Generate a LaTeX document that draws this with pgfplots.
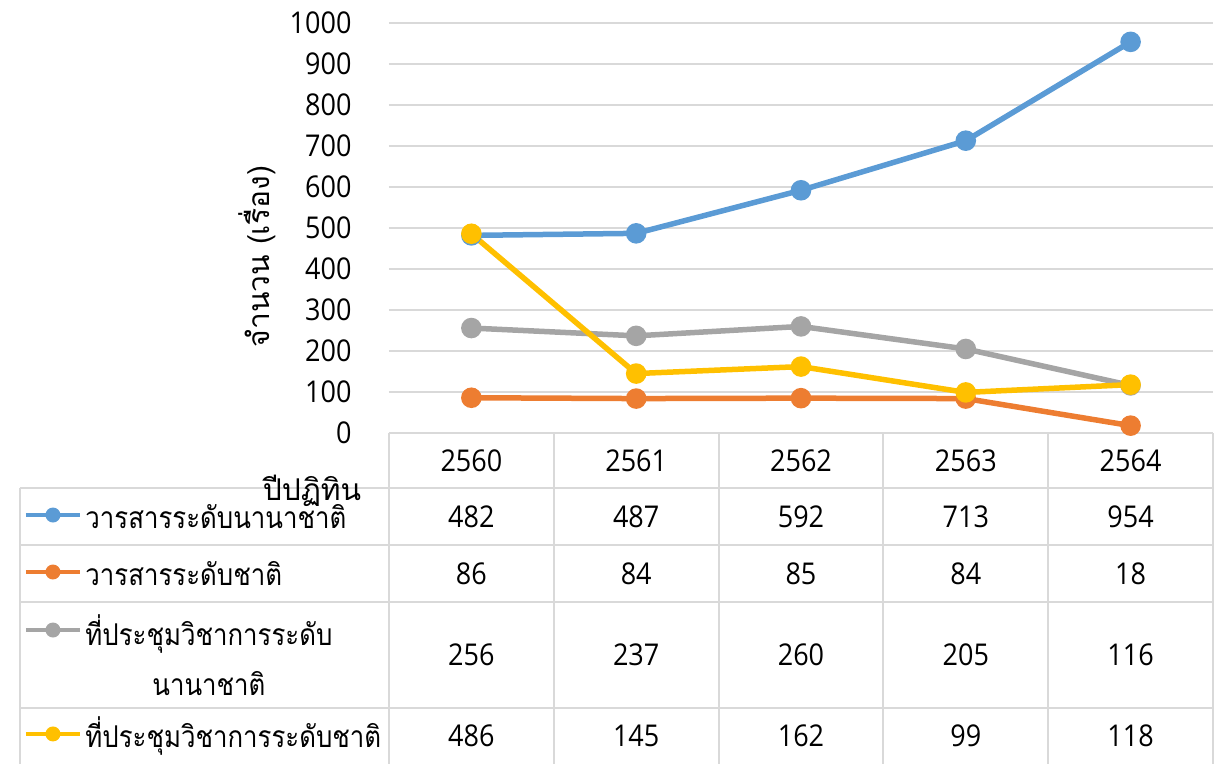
\documentclass[border=0pt]{standalone}
\usepackage{pgfplots}
\pgfplotsset{compat=1.18}
\usepackage{pgfplotstable}
\usepackage{fontspec}
\setmainfont{Open Sans}[FakeStretch=0.9]
\newfontfamily\thaifont[Script=Thai]{Loma}
\newfontfamily\thairow[Script=Thai, FakeStretch=0.86]{Loma}

\definecolor{sBlue}{HTML}{5B9BD5}
\definecolor{sOrange}{HTML}{ED7D31}
\definecolor{sGray}{HTML}{A5A5A5}
\definecolor{sYellow}{HTML}{FFC000}
\definecolor{gridc}{HTML}{D9D9D9}
\tikzset{tabline/.style={gridc, line width=0.8pt}}

% papers per year (Buddhist calendar)
\pgfplotstableread{
x year intj natj intc natc
0 2560 482 86 256 486
1 2561 487 84 237 145
2 2562 592 85 260 162
3 2563 713 84 205 99
4 2564 954 18 116 118
}\papers

\begin{document}
\fontsize{12}{20}\selectfont
\begin{tikzpicture}
\begin{axis}[
    scale only axis,
    width=329.6pt, height=164pt,
    xmin=-0.5, xmax=4.5, ymin=0, ymax=1000,
    xtick=\empty,
    ytick={0,100,...,1000},
    ymajorgrids,
    grid style={gridc, line width=0.6pt},
    axis line style={draw=none},
    major tick length=0pt,
    clip=false,
    /pgf/number format/assume math mode=true,
    /pgf/number format/1000 sep={},
    yticklabel style={xshift=-10.8pt},
    ylabel={\thaifont จำนวน (เรื่อง)},
    ylabel style={at={(rel axis cs:-0.16,0.43)}, anchor=center},
    every axis plot/.append style={line width=2.2pt, mark=*, mark size=3pt},
    every node near coord/.append style={black, font=\fontsize{12}{14}\selectfont},
]
% data table grid
\draw[tabline] (axis cs:-0.5,0) -- (axis cs:4.5,0);
\draw[tabline] (axis cs:-2.739,-134.1) -- (axis cs:4.5,-134.1);
\draw[tabline] (axis cs:-2.739,-273.2) -- (axis cs:4.5,-273.2);
\draw[tabline] (axis cs:-2.739,-412.2) -- (axis cs:4.5,-412.2);
\draw[tabline] (axis cs:-2.739,-670.7) -- (axis cs:4.5,-670.7);
\draw[tabline] (axis cs:-0.5,0) -- (axis cs:-0.5,-807.3);
\draw[tabline] (axis cs:0.5,0) -- (axis cs:0.5,-807.3);
\draw[tabline] (axis cs:1.5,0) -- (axis cs:1.5,-807.3);
\draw[tabline] (axis cs:2.5,0) -- (axis cs:2.5,-807.3);
\draw[tabline] (axis cs:3.5,0) -- (axis cs:3.5,-807.3);
\draw[tabline] (axis cs:4.5,0) -- (axis cs:4.5,-807.3);
\draw[tabline] (axis cs:-2.739,-134.1) -- (axis cs:-2.739,-807.3);

\addplot[sBlue, mark options={fill=sBlue}] table[x=x, y=intj]{\papers};
\addplot[sOrange, mark options={fill=sOrange}] table[x=x, y=natj]{\papers};
\addplot[sGray, mark options={fill=sGray}] table[x=x, y=intc]{\papers};
\addplot[sYellow, mark options={fill=sYellow}] table[x=x, y=natc]{\papers};

% table cells
\addplot[draw=none, mark=none, point meta=explicit symbolic, nodes near coords, nodes near coords align=center] table[x=x, y expr=-67, meta=year]{\papers};
\addplot[draw=none, mark=none, point meta=explicit symbolic, nodes near coords, nodes near coords align=center] table[x=x, y expr=-203.7, meta=intj]{\papers};
\addplot[draw=none, mark=none, point meta=explicit symbolic, nodes near coords, nodes near coords align=center] table[x=x, y expr=-342.7, meta=natj]{\papers};
\addplot[draw=none, mark=none, point meta=explicit symbolic, nodes near coords, nodes near coords align=center] table[x=x, y expr=-541.5, meta=intc]{\papers};
\addplot[draw=none, mark=none, point meta=explicit symbolic, nodes near coords, nodes near coords align=center] table[x=x, y expr=-739, meta=natc]{\papers};

% row headers: legend key + series name
\draw[sBlue, line width=1.6pt] (axis cs:-2.7027,-200) -- (axis cs:-2.375,-200);
\fill[sBlue] (axis cs:-2.539,-200) circle[radius=3pt];
\draw[sOrange, line width=1.6pt] (axis cs:-2.7027,-339) -- (axis cs:-2.375,-339);
\fill[sOrange] (axis cs:-2.539,-339) circle[radius=3pt];
\draw[sGray, line width=1.6pt] (axis cs:-2.7027,-480.5) -- (axis cs:-2.375,-480.5);
\fill[sGray] (axis cs:-2.539,-480.5) circle[radius=3pt];
\draw[sYellow, line width=1.6pt] (axis cs:-2.7027,-734) -- (axis cs:-2.375,-734);
\fill[sYellow] (axis cs:-2.539,-734) circle[radius=3pt];

\node[anchor=west, inner sep=0pt, font=\thairow] at (axis cs:-2.3447,-203.7) {วารสารระดับนานาชาติ};
\node[anchor=west, inner sep=0pt, font=\thairow] at (axis cs:-2.3447,-342.7) {วารสารระดับชาติ};
\node[anchor=west, inner sep=0pt, font=\thairow, align=center] at (axis cs:-2.3447,-541.5) {ที่ประชุมวิชาการระดับ\\นานาชาติ};
\node[anchor=west, inner sep=0pt, font=\thairow] at (axis cs:-2.3447,-739) {ที่ประชุมวิชาการระดับชาติ};
\node[anchor=base, font=\thaifont] at (axis cs:-0.967,-163.4) {ปีปฏิทิน};

\coordinate (bbll) at (axis cs:-2.8604,-807.3);
\coordinate (bbur) at (axis cs:4.5182,1056.1);
\end{axis}
\pgfresetboundingbox
\useasboundingbox (bbll) rectangle (bbur);
\end{tikzpicture}
\end{document}
